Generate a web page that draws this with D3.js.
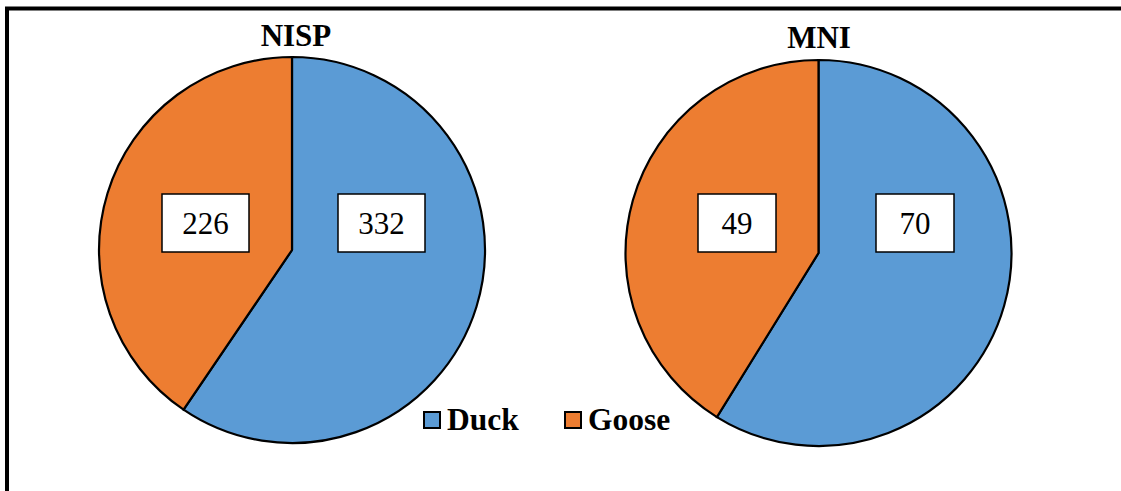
<!DOCTYPE html>
<html>
<head>
<meta charset="utf-8">
<script src="https://cdn.jsdelivr.net/npm/d3@7"></script>
<style>
  body { margin: 0; background: #fff; }
  svg { display: block; }
</style>
</head>
<body>
<svg class="chart" width="1121" height="491"></svg>
<script>
// data
var categories = ['Duck', 'Goose']
var nispValues = [332, 226]
var mniValues = [70, 49]
var chartTitles = ['NISP', 'MNI']
var colors = ['#5B9BD5', '#ED7D31']

const FONT = 'Liberation Serif'
const svg = d3.select('.chart')

// outer frame (cut off at right and bottom like the original)
svg
  .append('rect')
  .attr('x', 7)
  .attr('y', 8.5)
  .attr('width', 1130)
  .attr('height', 500)
  .attr('fill', 'none')
  .attr('stroke', '#000')
  .attr('stroke-width', 4)

var color = d3.scaleOrdinal().domain(categories).range(colors)

var pie = d3
  .pie()
  .sort(null)
  .value(function(d) {
    return d.value
  })

const radius = 193
var path = d3.arc().outerRadius(radius).innerRadius(0)

// label offsets from the centre (labels were moved by hand in the original)
var pies = [
  { title: chartTitles[0], values: nispValues, cx: 292, cy: 250, titleX: 296, titleY: 46,
    offsets: [[89.5, -27], [-86.5, -27]], boxW: 87 },
  { title: chartTitles[1], values: mniValues, cx: 818.5, cy: 253, titleX: 819, titleY: 48,
    offsets: [[96.5, -30], [-81.5, -30]], boxW: 78 }
]

pies.forEach(function(p) {
  var data = categories.map(function(c, i) {
    return { key: c, value: p.values[i] }
  })

  var g = svg
    .append('g')
    .attr('transform', 'translate(' + p.cx + ',' + p.cy + ')')

  g.selectAll('.slice')
    .data(pie(data))
    .enter()
    .append('path')
    .attr('class', 'slice')
    .attr('d', path)
    .attr('fill', function(d) {
      return color(d.data.key)
    })
    .attr('stroke', '#000')
    .attr('stroke-width', 2.2)
    .attr('stroke-linejoin', 'miter')

  var lab = g
    .selectAll('.lab')
    .data(pie(data))
    .enter()
    .append('g')
    .attr('class', 'lab')
    .attr('transform', function(d, i) {
      return 'translate(' + p.offsets[i][0] + ',' + p.offsets[i][1] + ')'
    })

  lab
    .append('rect')
    .attr('x', -p.boxW / 2)
    .attr('y', -29)
    .attr('width', p.boxW)
    .attr('height', 58)
    .attr('fill', '#fff')
    .attr('stroke', '#000')
    .attr('stroke-width', 1.5)

  lab
    .append('text')
    .attr('text-anchor', 'middle')
    .attr('y', 11)
    .attr('font-family', FONT)
    .attr('font-size', 31)
    .text(function(d) {
      return d.data.value
    })

  svg
    .append('text')
    .attr('x', p.titleX)
    .attr('y', p.titleY)
    .attr('text-anchor', 'middle')
    .attr('font-family', FONT)
    .attr('font-size', 31)
    .attr('font-weight', 'bold')
    .text(p.title)
})

// legend
var legendX = [423, 564]
var legend = svg
  .selectAll('.legend')
  .data(categories)
  .enter()
  .append('g')
  .attr('class', 'legend')
  .attr('transform', function(d, i) {
    return 'translate(' + legendX[i] + ',411)'
  })

legend
  .append('rect')
  .attr('x', 1)
  .attr('y', 1)
  .attr('width', 16)
  .attr('height', 16)
  .attr('fill', function(d) {
    return color(d)
  })
  .attr('stroke', '#000')
  .attr('stroke-width', 2)

legend
  .append('text')
  .attr('x', 24)
  .attr('y', 19)
  .attr('font-family', FONT)
  .attr('font-size', 31.5)
  .attr('font-weight', 'bold')
  .text(function(d) {
    return d
  })
</script>
</body>
</html>
